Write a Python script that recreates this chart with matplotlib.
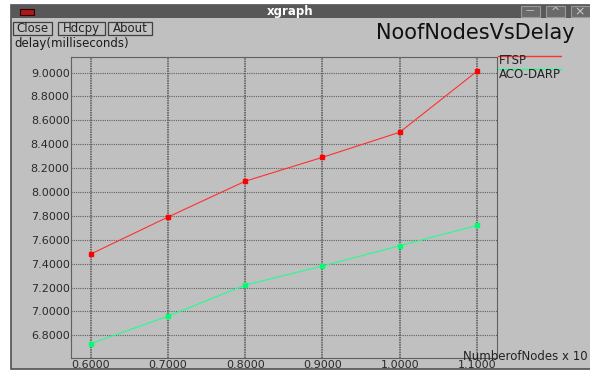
import matplotlib
matplotlib.use("Agg")
import matplotlib.pyplot as plt
from matplotlib.patches import Rectangle

# data
nodes = [0.6, 0.7, 0.8, 0.9, 1.0, 1.1]
ftsp = [7.48, 7.79, 8.09, 8.29, 8.50, 9.01]
aco_darp = [6.73, 6.96, 7.22, 7.38, 7.55, 7.72]
xticks = [0.6, 0.7, 0.8, 0.9, 1.0, 1.1]
yticks = [6.8, 7.0, 7.2, 7.4, 7.6, 7.8, 8.0, 8.2, 8.4, 8.6, 8.8, 9.0]

W, H = 590, 371
BG = "#c0c0c0"
plt.rcParams['font.family'] = ['DejaVu Sans']

fig = plt.figure(figsize=(W / 100, H / 100), dpi=100)
fig.patch.set_facecolor("white")


def box(x, y, w, h, z=-5, **kw):
    # x, y, w, h in pixels from top-left
    r = Rectangle((x / W, 1 - (y + h) / H), w / W, h / H,
                  transform=fig.transFigure, figure=fig, zorder=z, **kw)
    fig.patches.append(r)


def txt(x, y, s, **kw):
    fig.text(x / W, 1 - y / H, s, zorder=5, **kw)


# window body and title bar
box(11, 5, 590, 364, facecolor=BG, edgecolor="#505050", lw=1.2, z=-10)
box(11, 5, 590, 13, facecolor="#585858", edgecolor="none")
box(20, 9, 14, 6, facecolor="#b01818", edgecolor="#300000", lw=0.8)
txt(290, 12, "xgraph", color="white", fontsize=8.5, fontweight="bold",
    ha="center", va="center")
for bx in (521, 546, 571):
    box(bx, 6, 19, 11, facecolor="#6a6a6a", edgecolor="#9a9a9a", lw=0.8)
txt(530, 11, "\u2014", color="#cccccc", fontsize=6, ha="center", va="center")
txt(555, 12, "^", color="#cccccc", fontsize=8, ha="center", va="center")
txt(580, 12, "\u00d7", color="#cccccc", fontsize=9, ha="center", va="center")

# buttons
for bx, bw, label in ((13, 39, "Close"), (58, 47, "Hdcpy"), (108, 44, "About")):
    box(bx, 22, bw, 13, facecolor=BG, edgecolor="#404040", lw=0.9)
    txt(bx + bw / 2, 28.5, label, fontsize=8.5, ha="center", va="center",
        color="#222222")

txt(575, 33, "NoofNodesVsDelay", fontsize=15, ha="right", va="center",
    color="#111111")
txt(14, 44, "delay(milliseconds)", fontsize=8.5, ha="left", va="center",
    color="#1a1a1a")

# plot area
ax = fig.add_axes([71 / W, 1 - 358 / H, (497 - 71) / W, (358 - 57) / H])
ax.set_facecolor(BG)
ax.set_xlim(0.5745, 1.126)
ax.set_ylim(6.61, 9.13)
for s in ax.spines.values():
    s.set_color("#606060")
    s.set_linestyle((0, (1, 1)))
    s.set_linewidth(0.8)

for x in xticks:
    ax.axvline(x, color="#555555", lw=1.1, ls=(0, (1, 0.6)), zorder=1)
for y in yticks:
    ax.axhline(y, color="#606060", lw=0.8, ls=(0, (1, 1)), zorder=1)

ax.plot(nodes, ftsp, color="#ff3030", lw=0.8, marker="s", ms=3,
        mfc="#ff0000", mec="#ff0000", zorder=3)
ax.plot(nodes, aco_darp, color="#20ff90", lw=0.8, marker="s", ms=3,
        mfc="#00ff70", mec="#00ff70", zorder=3)

ax.set_xticks(xticks)
ax.set_yticks(yticks)
ax.set_xticklabels(["%.4f" % v for v in xticks])
ax.set_yticklabels(["%.4f" % v for v in yticks])
ax.tick_params(length=0, labelsize=8, labelcolor="#2a2a2a", pad=1)
ax.tick_params(axis="x", pad=1.5)

# legend drawn like xgraph
leg_ax = fig.add_axes([498 / W, 1 - 80 / H, 64 / W, 30 / H])
leg_ax.set_axis_off()
leg_ax.set_xlim(0, 1)
leg_ax.set_ylim(80, 50)
leg_ax.plot([0, 1], [56, 56], color="#ff3030", lw=1.0)
leg_ax.plot([0, 1], [68.5, 68.5], color="#20ff90", lw=1.0)
txt(499, 61, "FTSP", fontsize=8.5, ha="left", va="center", color="#222222")
txt(499, 74, "ACO-DARP", fontsize=8.5, ha="left", va="center", color="#222222")

txt(463, 356, "NumberofNodes x 10", fontsize=8.5, ha="left", va="center",
    color="#222222")

fig.savefig("out.png", dpi=100, facecolor=fig.get_facecolor())
